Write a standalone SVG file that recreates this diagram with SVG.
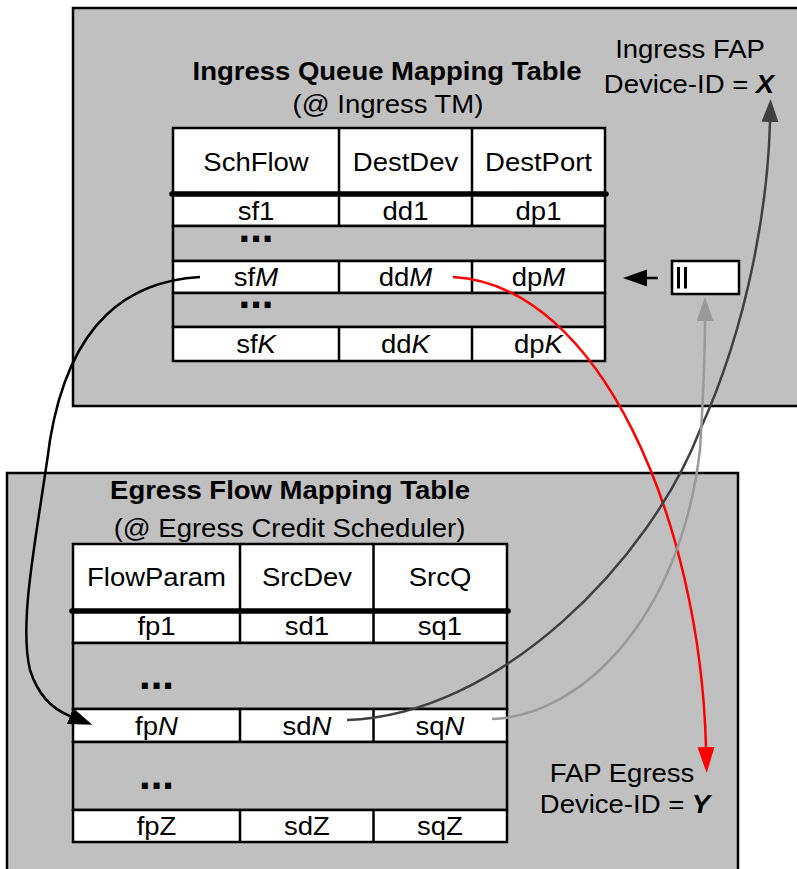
<svg xmlns="http://www.w3.org/2000/svg" width="797" height="869" viewBox="0 0 797 869">
  <style>
    .box { fill: #c0c0c0; stroke: #000; stroke-width: 2.5; }
    .cell { fill: #fff; stroke: #000; stroke-width: 2.5; }
    .gap { fill: #c0c0c0; stroke: #000; stroke-width: 2.5; }
    .div { stroke: #000; stroke-width: 2.5; }
    .sep { stroke: #000; stroke-width: 5.5; stroke-linecap: round; }
    .t { font-family: "Liberation Sans", Arial, sans-serif; font-size: 25px; text-anchor: middle; fill: #000; }
    .b { font-weight: bold; }
    .i { font-style: italic; }
    .dots { font-family: "Liberation Sans", Arial, sans-serif; font-size: 42px; font-weight: bold; text-anchor: middle; fill: #000; }
    .link { fill: none; stroke-width: 2.5; }
  </style>
  <defs>
    <marker id="head-black" markerUnits="userSpaceOnUse" markerWidth="26" markerHeight="18" refX="0" refY="8.5" orient="auto">
      <path d="M0,0 L24,8.5 L0,17 z" fill="#000"/>
    </marker>
    <marker id="head-dark" markerUnits="userSpaceOnUse" markerWidth="26" markerHeight="18" refX="0" refY="8.5" orient="auto">
      <path d="M0,0 L23,8.5 L0,17 z" fill="#404040"/>
    </marker>
    <marker id="head-grey" markerUnits="userSpaceOnUse" markerWidth="26" markerHeight="18" refX="0" refY="8.5" orient="auto">
      <path d="M0,0 L24,8.5 L0,17 z" fill="#999"/>
    </marker>
    <marker id="head-red" markerUnits="userSpaceOnUse" markerWidth="28" markerHeight="18" refX="0" refY="8.5" orient="auto">
      <path d="M0,0 L26,8.5 L0,17 z" fill="#f00"/>
    </marker>
  </defs>

  <!-- Ingress device panel -->
  <g id="ingress-box">
    <rect class="box" x="73" y="8" width="740" height="398"/>
    <text class="t b" transform="translate(387 80) scale(1.1 1)">Ingress Queue Mapping Table</text>
    <text class="t" transform="translate(388 113) scale(1.1 1)">(@ Ingress TM)</text>
  </g>

  <!-- Ingress queue mapping table -->
  <g id="ingress-table">
    <rect class="cell" x="173" y="128" width="432" height="66"/>
    <rect class="cell" x="173" y="194" width="432" height="32"/>
    <rect class="gap" x="173" y="226" width="432" height="35"/>
    <rect class="cell" x="173" y="261" width="432" height="32"/>
    <rect class="gap" x="173" y="293" width="432" height="34"/>
    <rect class="cell" x="173" y="327" width="432" height="34"/>
    <path class="div" d="M339,128V226 M472,128V226 M339,261V293 M472,261V293 M339,327V361 M472,327V361"/>
    <line class="sep" x1="172" y1="194" x2="606" y2="194"/>
    <text class="t" transform="translate(256 171) scale(1.1 1)">SchFlow</text>
    <text class="t" transform="translate(405.5 171) scale(1.1 1)">DestDev</text>
    <text class="t" transform="translate(538.5 171) scale(1.1 1)">DestPort</text>
    <text class="t" transform="translate(256 220) scale(1.1 1)">sf1</text>
    <text class="t" transform="translate(405.5 220) scale(1.1 1)">dd1</text>
    <text class="t" transform="translate(538.5 220) scale(1.1 1)">dp1</text>
    <text class="dots" x="256" y="242">...</text>
    <text class="t" transform="translate(256 286) scale(1.1 1)">sf<tspan class="i">M</tspan></text>
    <text class="t" transform="translate(405.5 286) scale(1.1 1)">dd<tspan class="i">M</tspan></text>
    <text class="t" transform="translate(538.5 286) scale(1.1 1)">dp<tspan class="i">M</tspan></text>
    <text class="dots" x="256" y="308">...</text>
    <text class="t" transform="translate(256 353) scale(1.1 1)">sf<tspan class="i">K</tspan></text>
    <text class="t" transform="translate(405.5 353) scale(1.1 1)">dd<tspan class="i">K</tspan></text>
    <text class="t" transform="translate(538.5 353) scale(1.1 1)">dp<tspan class="i">K</tspan></text>
  </g>

  <!-- Ingress FAP label -->
  <g id="ingress-fap">
    <text class="t" transform="translate(690 58) scale(1.1 1)">Ingress FAP</text>
    <text class="t" transform="translate(689 93) scale(1.1 1)">Device-ID = <tspan class="b i">X</tspan></text>
  </g>

  <!-- Queue pointer box -->
  <g id="queue-box">
    <rect x="672" y="261" width="67" height="33" fill="#fff" stroke="#000" stroke-width="2.5"/>
    <path d="M678.5,267V288.5 M685.5,267V288.5" stroke="#000" stroke-width="3"/>
  </g>

  <!-- Egress device panel -->
  <g id="egress-box">
    <rect class="box" x="7" y="473" width="731" height="410"/>
    <text class="t b" transform="translate(290 499) scale(1.1 1)">Egress Flow Mapping Table</text>
    <text class="t" transform="translate(289.5 537) scale(1.1 1)">(@ Egress Credit Scheduler)</text>
  </g>

  <!-- Egress flow mapping table -->
  <g id="egress-table">
    <rect class="cell" x="73" y="544" width="434" height="67"/>
    <rect class="cell" x="73" y="611" width="434" height="32"/>
    <rect class="gap" x="73" y="643" width="434" height="66"/>
    <rect class="cell" x="73" y="709" width="434" height="33"/>
    <rect class="gap" x="73" y="742" width="434" height="68"/>
    <rect class="cell" x="73" y="810" width="434" height="32"/>
    <path class="div" d="M240,544V643 M373.5,544V643 M240,709V742 M373.5,709V742 M240,810V842 M373.5,810V842"/>
    <line class="sep" x1="72" y1="611" x2="508" y2="611"/>
    <text class="t" transform="translate(156.5 586) scale(1.1 1)">FlowParam</text>
    <text class="t" transform="translate(307 586) scale(1.1 1)">SrcDev</text>
    <text class="t" transform="translate(440 586) scale(1.1 1)">SrcQ</text>
    <text class="t" transform="translate(156.5 635) scale(1.1 1)">fp1</text>
    <text class="t" transform="translate(307 635) scale(1.1 1)">sd1</text>
    <text class="t" transform="translate(440 635) scale(1.1 1)">sq1</text>
    <text class="dots" x="156.5" y="689">...</text>
    <text class="t" transform="translate(156.5 735) scale(1.1 1)">fp<tspan class="i">N</tspan></text>
    <text class="t" transform="translate(307 735) scale(1.1 1)">sd<tspan class="i">N</tspan></text>
    <text class="t" transform="translate(440 735) scale(1.1 1)">sq<tspan class="i">N</tspan></text>
    <text class="dots" x="156.5" y="789">...</text>
    <text class="t" transform="translate(156.5 835) scale(1.1 1)">fpZ</text>
    <text class="t" transform="translate(307 835) scale(1.1 1)">sdZ</text>
    <text class="t" transform="translate(440 835) scale(1.1 1)">sqZ</text>
  </g>

  <!-- Egress FAP label -->
  <g id="egress-fap">
    <text class="t" transform="translate(622 782) scale(1.1 1)">FAP Egress</text>
    <text class="t" transform="translate(625 813) scale(1.1 1)">Device-ID = <tspan class="b i">Y</tspan></text>
  </g>

  <!-- Connectors -->
  <g id="connectors">
    <!-- sfM -> fpN -->
    <path class="link" stroke="#000" marker-end="url(#head-black)" d="M200,277 C130,281 70,320 50,440 C38,530 18,620 30,670 C38,695 52,709 70,716"/>
    <!-- ddM -> egress device -->
    <path class="link" stroke="#f00" marker-end="url(#head-red)" d="M453,277 C600,285 700,520 706,747"/>
    <!-- sdN -> ingress device -->
    <path class="link" stroke="#404040" marker-end="url(#head-dark)" d="M347,720 C500,715 650,560 700,430 C750,320 768,200 770,122"/>
    <!-- sqN -> queue box -->
    <path class="link" stroke="#999" marker-end="url(#head-grey)" d="M492,719 C580,716 680,620 700,450 C703,400 705,360 705,321"/>
    <!-- queue box -> DestPort row -->
    <path class="link" stroke="#000" stroke-width="3" marker-end="url(#head-black)" d="M658,278 L647,278"/>
  </g>
</svg>
